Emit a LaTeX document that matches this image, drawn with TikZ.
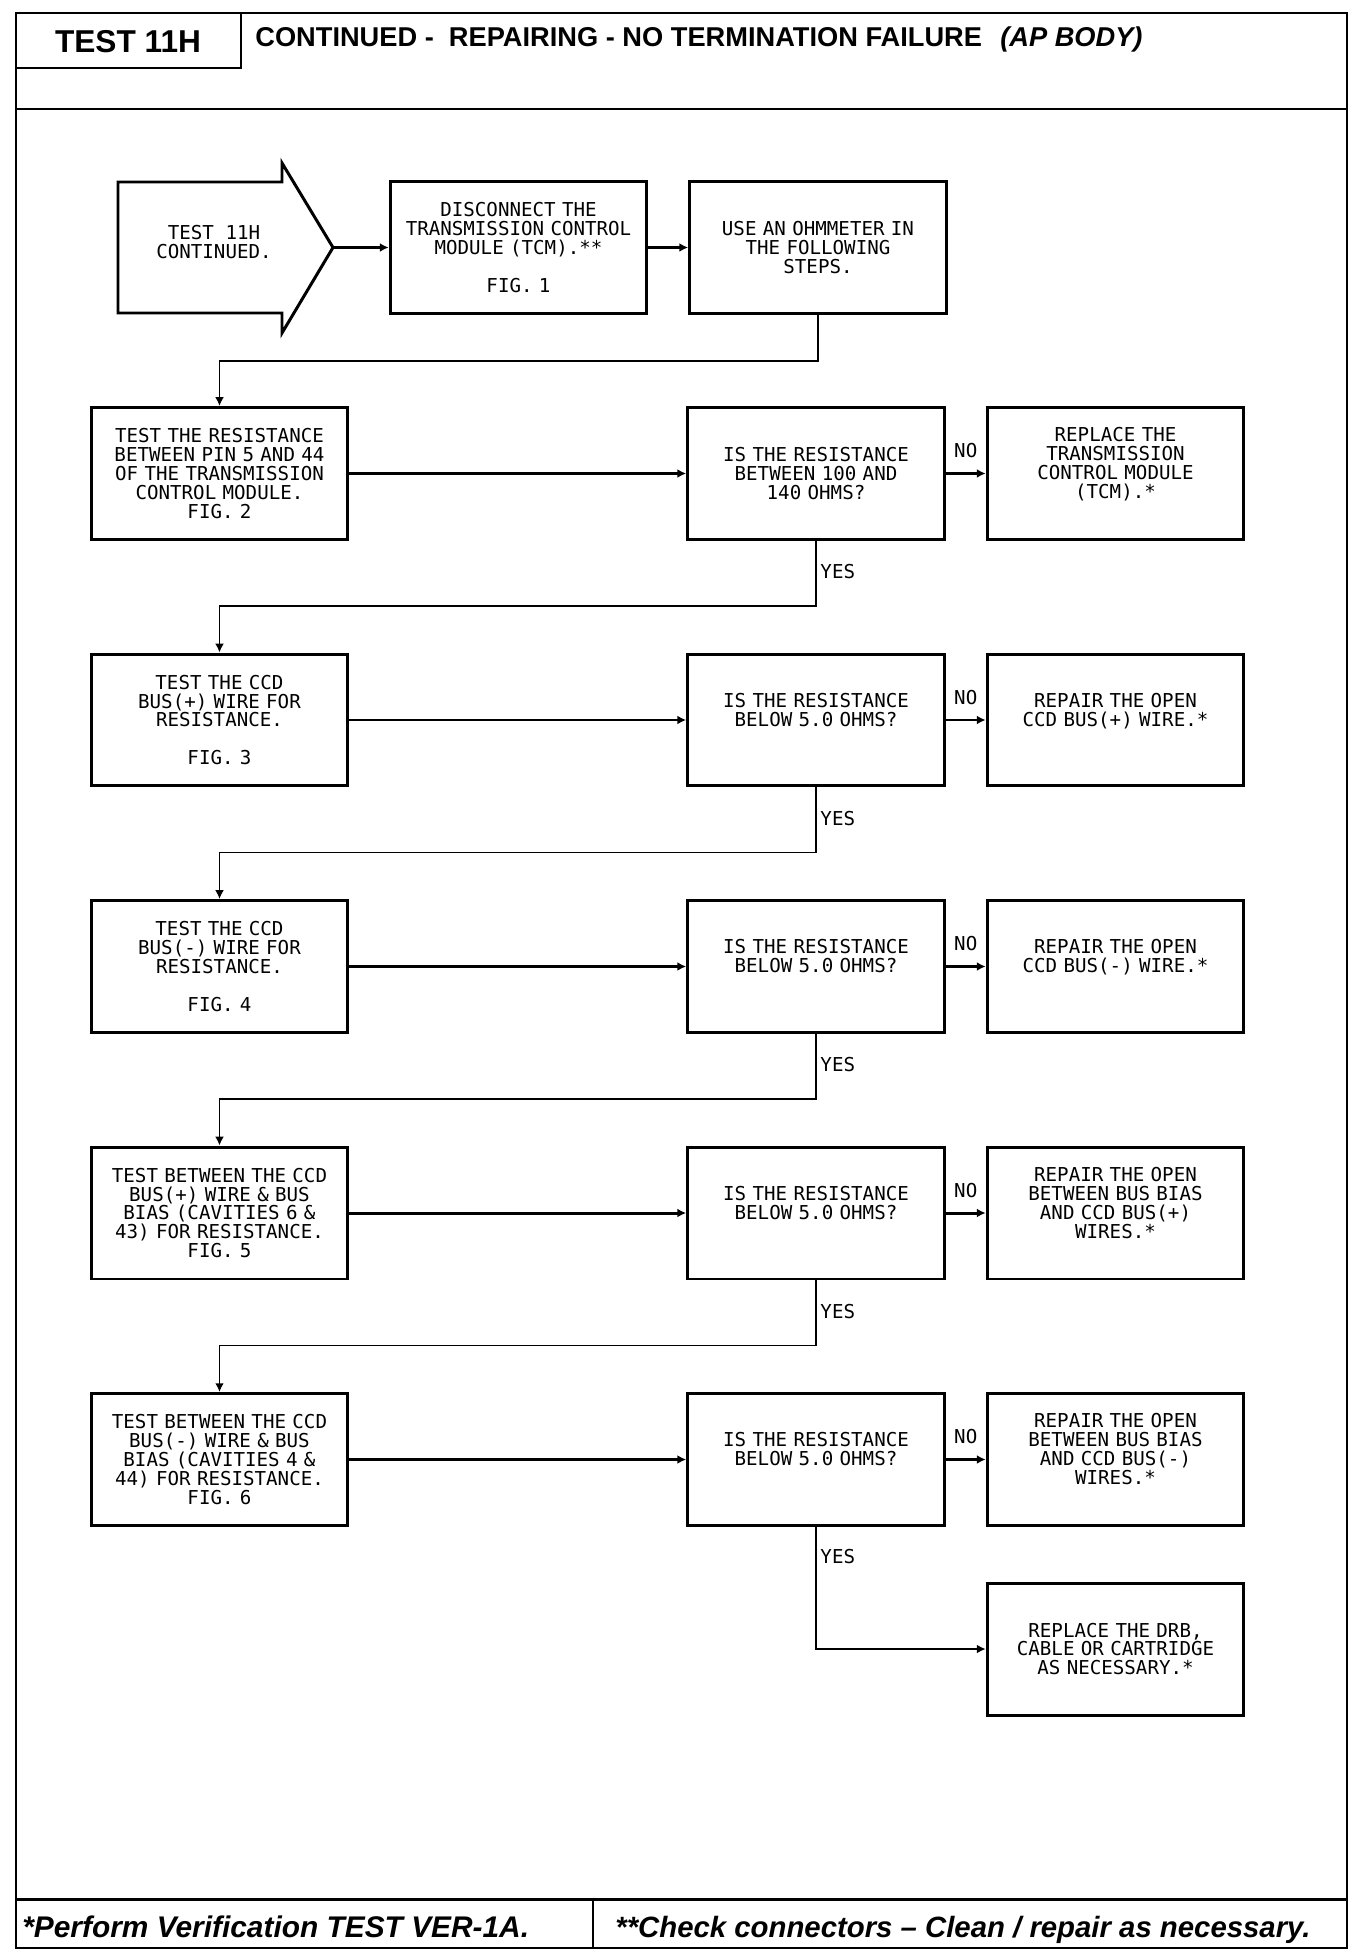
\documentclass[tikz,border=0pt]{standalone}
\usepackage{fontspec}
\setmainfont{Liberation Sans}
\newfontfamily\plotter{DejaVu Sans Mono}
\usepackage{tikz}
\usetikzlibrary{calc, arrows.meta}
\tikzstyle{etape} = [rectangle, draw=black, line width=1.7pt, minimum height=2.64cm, minimum width=5.02cm, text width=4.9cm, text centered, font=\plotter\fontsize{10.9}{10.8}\selectfont]
\tikzstyle{hautdeux} = [text depth=22.5pt]
\tikzstyle{hautquatre} = [text depth=44pt]
\tikzstyle{fleche} = [line width=1.7pt, -{Latex[length=5pt,width=5pt]}]
\tikzstyle{lien} = [line width=1.1pt, -{Latex[length=5pt,width=5pt]}]
\tikzstyle{reponse} = [font=\plotter\fontsize{10.9}{10.8}\selectfont, inner sep=2pt]

\begin{document}
\begin{tikzpicture}[x=0.02cm, y=-0.02cm]

        \useasboundingbox (0,0) rectangle (1360,1956);

        % frame, header and footer
        \draw[line width=1.5pt] (16,13) rectangle (1347,1948);
        \draw[line width=1.7pt] (16,109) -- (1347,109);
        \draw[line width=1.5pt] (241,13) -- (241,68) -- (16,68);
        \draw[line width=1.7pt] (16,1899) -- (1347,1899);
        \draw[line width=1.2pt] (593,1899) -- (593,1948);

        \node (titre) [anchor=base, inner sep=0, font=\bfseries\fontsize{18}{20}\selectfont] at (128,53) {TEST 11H};
        \node (entete) [anchor=base west, inner sep=0, font=\bfseries\fontsize{15.5}{18}\selectfont] at (255,47) {CONTINUED - \ REPAIRING - NO TERMINATION FAILURE};
        \node (carrosserie) [anchor=base west, inner sep=0, font=\bfseries\itshape\fontsize{15.5}{18}\selectfont] at (1000,47) {(AP BODY)};

        \node (note1) [anchor=base west, inner sep=0, font=\bfseries\itshape\fontsize{17}{20}\selectfont] at (22,1937) {*Perform Verification TEST VER-1A.};
        \node (note2) [anchor=base west, inner sep=0, font=\bfseries\itshape\fontsize{16.7}{20}\selectfont] at (615,1937) {**Check connectors -- Clean / repair as necessary.};

        % start arrow
        \draw[line width=1.7pt] (118,182) -- (282,182) -- (282,163) -- (333,247.5) -- (282,333) -- (282,313) -- (118,313) -- cycle;
        \node (debut) [align=center, font=\plotter\fontsize{10.9}{10.8}\selectfont] at (214,242) {TEST 11H\\CONTINUED.};
        \coordinate (pointe) at (333,247.5);

        \node (deconnexion) [etape] at (518.5,247.5) {DISCONNECT THE\\TRANSMISSION CONTROL\\MODULE (TCM).**\\[10.8pt]FIG. 1};
        \node (ohmmetre) [etape] at (818,247.5) {USE AN OHMMETER IN\\THE FOLLOWING\\STEPS.};

        \node (test1) [etape] at (219.5,473.5) {TEST THE RESISTANCE\\BETWEEN PIN 5 AND 44\\OF THE TRANSMISSION\\CONTROL MODULE.\\FIG. 2};
        \node (question1) [etape] at (816,473.5) {IS THE RESISTANCE\\BETWEEN 100 AND\\140 OHMS?};
        \node (action1) [etape, hautquatre] at (1115.5,473.5) {REPLACE THE\\TRANSMISSION\\CONTROL MODULE\\(TCM).*};

        \node (test2) [etape] at (219.5,720) {TEST THE CCD\\BUS(+) WIRE FOR\\RESISTANCE.\\[10.8pt]FIG. 3};
        \node (question2) [etape, hautdeux] at (816,720) {IS THE RESISTANCE\\BELOW 5.0 OHMS?};
        \node (action2) [etape, hautdeux] at (1115.5,720) {REPAIR THE OPEN\\CCD BUS(+) WIRE.*};

        \node (test3) [etape] at (219.5,966.5) {TEST THE CCD\\BUS(-) WIRE FOR\\RESISTANCE.\\[10.8pt]FIG. 4};
        \node (question3) [etape, hautdeux] at (816,966.5) {IS THE RESISTANCE\\BELOW 5.0 OHMS?};
        \node (action3) [etape, hautdeux] at (1115.5,966.5) {REPAIR THE OPEN\\CCD BUS(-) WIRE.*};

        \node (test4) [etape] at (219.5,1213) {TEST BETWEEN THE CCD\\BUS(+) WIRE \& BUS\\BIAS (CAVITIES 6 \&\\43) FOR RESISTANCE.\\FIG. 5};
        \node (question4) [etape, hautdeux] at (816,1213) {IS THE RESISTANCE\\BELOW 5.0 OHMS?};
        \node (action4) [etape, hautquatre] at (1115.5,1213) {REPAIR THE OPEN\\BETWEEN BUS BIAS\\AND CCD BUS(+)\\WIRES.*};

        \node (test5) [etape] at (219.5,1459.5) {TEST BETWEEN THE CCD\\BUS(-) WIRE \& BUS\\BIAS (CAVITIES 4 \&\\44) FOR RESISTANCE.\\FIG. 6};
        \node (question5) [etape, hautdeux] at (816,1459.5) {IS THE RESISTANCE\\BELOW 5.0 OHMS?};
        \node (action5) [etape, hautquatre] at (1115.5,1459.5) {REPAIR THE OPEN\\BETWEEN BUS BIAS\\AND CCD BUS(-)\\WIRES.*};

        \node (remplacer) [etape] at (1115.5,1649) {REPLACE THE DRB,\\CABLE OR CARTRIDGE\\AS NECESSARY.*};

        \draw[fleche] (pointe) -- (deconnexion);
        \draw[fleche] (deconnexion) -- (ohmmetre);
        \draw[lien] (ohmmetre.south) -- ++(0,46) -| (test1.north);

        \draw[fleche] (test1) -- (question1);
        \draw[fleche] (question1) -- node[reponse, above=6pt] {NO} (action1);
        \draw[lien] (question1.south) -- ++(0,65) node[reponse, anchor=west, pos=0.47] {YES} -| (test2.north);

        \draw[fleche] (test2) -- (question2);
        \draw[fleche] (question2) -- node[reponse, above=6pt] {NO} (action2);
        \draw[lien] (question2.south) -- ++(0,65) node[reponse, anchor=west, pos=0.47] {YES} -| (test3.north);

        \draw[fleche] (test3) -- (question3);
        \draw[fleche] (question3) -- node[reponse, above=6pt] {NO} (action3);
        \draw[lien] (question3.south) -- ++(0,65) node[reponse, anchor=west, pos=0.47] {YES} -| (test4.north);

        \draw[fleche] (test4) -- (question4);
        \draw[fleche] (question4) -- node[reponse, above=6pt] {NO} (action4);
        \draw[lien] (question4.south) -- ++(0,65) node[reponse, anchor=west, pos=0.47] {YES} -| (test5.north);

        \draw[fleche] (test5) -- (question5);
        \draw[fleche] (question5) -- node[reponse, above=6pt] {NO} (action5);
        \draw[lien] (question5.south) |- node[reponse, anchor=west, pos=0.12] {YES} (remplacer.west);

    \end{tikzpicture}
\end{document}
